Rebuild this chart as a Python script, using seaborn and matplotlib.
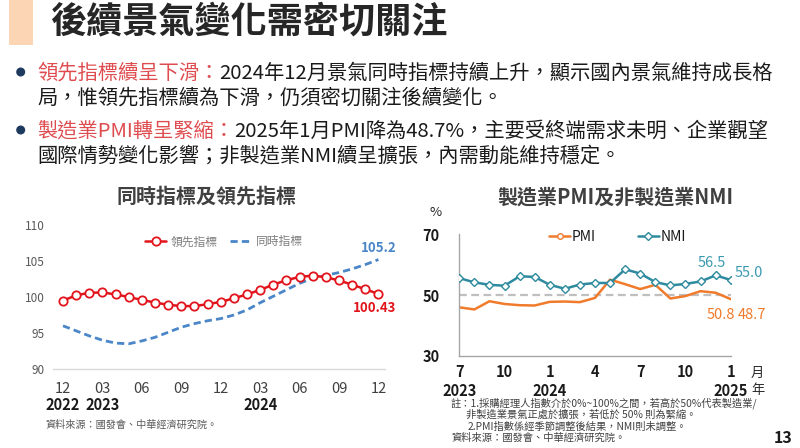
import matplotlib
matplotlib.use("Agg")
import matplotlib.pyplot as plt
from matplotlib.lines import Line2D
from matplotlib.patches import Rectangle, Ellipse
import seaborn as sns
import pandas as pd
import numpy as np

# ---------------- data ----------------
left_months = ["12", "01", "02", "03", "04", "05", "06", "07", "08", "09", "10", "11",
               "12", "01", "02", "03", "04", "05", "06", "07", "08", "09", "10", "11", "12"]
leading = [99.50, 100.23, 100.59, 100.63, 100.36, 100.00, 99.59, 99.23, 98.92, 98.74,
           98.74, 99.00, 99.32, 99.82, 100.36, 100.99, 101.71, 102.34, 102.79, 102.97,
           102.75, 102.30, 101.71, 101.08, 100.43]
coincident = [96.0, 95.3, 94.6, 94.0, 93.6, 93.5, 93.9, 94.4, 95.1, 95.8, 96.3, 96.7,
              97.0, 97.5, 98.2, 99.2, 100.1, 101.0, 101.9, 102.6, 103.0, 103.4, 103.9,
              104.5, 105.2]
left_tick_labels = ["12", "03", "06", "09", "12", "03", "06", "09", "12"]
left_years = [(0, "2022"), (3, "2023"), (15, "2024")]

right_months = ["7", "8", "9", "10", "11", "12", "1", "2", "3", "4", "5", "6",
                "7", "8", "9", "10", "11", "12", "1"]
pmi = [46.0, 45.3, 48.0, 47.1, 46.7, 46.6, 47.8, 47.9, 47.7, 49.1, 55.1, 53.6,
       52.0, 53.4, 48.9, 49.7, 51.3, 50.8, 48.7]
nmi = [55.6, 54.2, 53.4, 53.1, 56.2, 56.0, 53.4, 52.1, 53.5, 54.0, 54.0, 58.5,
       57.1, 54.3, 53.2, 53.7, 54.5, 56.5, 55.0]
right_tick_labels = ["7", "10", "1", "4", "7", "10", "1"]
right_years = [(0, "2023"), (6, "2024"), (18, "2025")]

# ---------------- style ----------------
sns.set_style("white")
plt.rcParams['font.family'] = ['Noto Sans CJK TC', 'DejaVu Sans']
plt.rcParams['axes.unicode_minus'] = False

W, H = 800, 448
fig = plt.figure(figsize=(8, 4.48), dpi=100)
fig.patch.set_facecolor("white")


def fx(px):
    return px / W


def fy(py):
    return 1 - py / H


def ftext(px, py, s, **kw):
    return fig.text(fx(px), fy(py), s, **kw)


# ---------------- slide header ----------------
fig.add_artist(Rectangle((fx(9), fy(45)), fx(33) - fx(9), 45 / H,
                         transform=fig.transFigure, color="#FCD5B5", lw=0))
ftext(50, 22, "後續景氣變化需密切關注", fontsize=26, fontweight="bold",
      color="#262626", ha="left", va="center")

RED_TXT = "#DF4C4F"
BODY = "#1A1A1A"
FS = 14.6
BASE = 7  # baseline offset below visual line centre (px)
bullets = [
    (72, "領先指標續呈下滑：", "2024年12月景氣同時指標持續上升，顯示國內景氣維持成長格"),
    (130, "製造業PMI轉呈緊縮：", "2025年1月PMI降為48.7%，主要受終端需求未明、企業觀望"),
]
second_lines = [
    (97, "局，惟領先指標續為下滑，仍須密切關注後續變化。"),
    (155, "國際情勢變化影響；非製造業NMI續呈擴張，內需動能維持穩定。"),
]
red_texts = []
for py, red, rest in bullets:
    fig.add_artist(Ellipse((fx(20.7), fy(py)), 9 / W, 9 / H,
                           transform=fig.transFigure, color="#1F3A5F", lw=0))
    t = ftext(37, py + BASE, red, fontsize=FS, color=RED_TXT, ha="left", va="baseline")
    red_texts.append((t, py, rest))
for py, s in second_lines:
    ftext(37, py + BASE, s, fontsize=FS, color=BODY, ha="left", va="baseline")

# ---------------- left chart ----------------
axL = fig.add_axes([fx(53), fy(369), (385 - 53) / W, (369 - 225) / H])
dfL = pd.DataFrame({"idx": np.arange(len(leading)), "leading": leading,
                    "coincident": coincident})
RED = "#E2141C"
BLUE = "#4A86C8"
sns.lineplot(data=dfL, x="idx", y="coincident", ax=axL, color=BLUE, lw=2.0,
             linestyle=(0, (2.6, 1.5)), zorder=2)
sns.lineplot(data=dfL, x="idx", y="leading", ax=axL, color=RED, lw=1.8,
             marker="o", markersize=6, markerfacecolor="white",
             markeredgecolor=RED, markeredgewidth=1.3, zorder=3)
axL.set_xlim(-0.76, 24.5)
axL.set_ylim(90, 110)
axL.set_yticks([90, 95, 100, 105, 110])
axL.set_xticks(range(0, 25, 3))
axL.set_xticklabels(left_tick_labels)
axL.set_xlabel("")
axL.set_ylabel("")
for s in ["top", "right", "left"]:
    axL.spines[s].set_visible(False)
axL.spines["bottom"].set_color("#D9D9D9")
axL.spines["bottom"].set_linewidth(1.0)
axL.tick_params(axis="y", length=0, pad=6, labelsize=8.5, labelcolor="#595959")
axL.tick_params(axis="x", length=0, pad=9, labelsize=10.5, labelcolor="#404040")
for i, y in left_years:
    axL.text(i, -0.25, y, transform=axL.get_xaxis_transform(), ha="center",
             va="center", fontsize=10.5, fontweight="bold", color="#1A1A1A")
axL.annotate("105.2", xy=(24, coincident[-1]), xytext=(0.5, 12),
             textcoords="offset pixels", ha="center", va="center",
             fontsize=9.5, fontweight="bold", color=BLUE)
axL.annotate("100.43", xy=(24, leading[-1]), xytext=(-3.5, -14),
             textcoords="offset pixels", ha="center", va="center",
             fontsize=9.5, fontweight="bold", color=RED)
hL = [Line2D([], [], color=RED, lw=1.8, marker="o", markersize=6,
             markerfacecolor="white", markeredgecolor=RED, markeredgewidth=1.3),
      Line2D([], [], color=BLUE, lw=2.0, linestyle=(0, (2.6, 1.5)))]
axL.legend(hL, ["領先指標", "同時指標"], loc="center", bbox_to_anchor=(0.515, 0.882),
           ncol=2, frameon=False, fontsize=8.5, handlelength=1.8,
           handletextpad=0.4, columnspacing=1.0, labelcolor="#7F7F7F")
ftext(207, 196, "同時指標及領先指標", fontsize=14.4, fontweight="bold",
      color="#404040", ha="center", va="center")
ftext(46, 425, "資料來源：國發會、中華經濟研究院。", fontsize=7.3,
      color="#595959", ha="left", va="center")

# ---------------- right chart ----------------
axR = fig.add_axes([fx(459.3), fy(356), (730.7 - 459.3) / W, (356 - 234.3) / H])
dfR = pd.DataFrame({"idx": np.arange(len(pmi)), "PMI": pmi, "NMI": nmi})
ORANGE = "#F07B2C"
TEAL = "#2E8A9E"
axR.axhline(50, color="#BFBFBF", lw=1.6, linestyle=(0, (3.5, 2)), zorder=1)
sns.lineplot(data=dfR, x="idx", y="PMI", ax=axR, color=ORANGE, lw=1.8, zorder=2)
sns.lineplot(data=dfR, x="idx", y="NMI", ax=axR, color=TEAL, lw=1.8,
             marker="D", markersize=3.6, markerfacecolor="white",
             markeredgecolor=TEAL, markeredgewidth=1.0, zorder=3)
axR.set_xlim(0, 18)
axR.set_ylim(30, 70)
axR.set_yticks([30, 50, 70])
axR.set_xticks(range(0, 19, 3))
axR.set_xticklabels(right_tick_labels)
axR.set_xlabel("")
axR.set_ylabel("")
for s in ["top", "right"]:
    axR.spines[s].set_visible(False)
for s in ["left", "bottom"]:
    axR.spines[s].set_color("#A6A6A6")
    axR.spines[s].set_linewidth(1.0)
axR.tick_params(axis="x", direction="in", length=4.5, width=0.8, color="#A6A6A6",
                pad=5.5, labelsize=10.5, labelcolor="#1A1A1A")
axR.tick_params(axis="y", direction="out", length=3, width=0.8, color="#A6A6A6",
                pad=11, labelsize=10.5, labelcolor="#1A1A1A")
for lab in axR.get_xticklabels() + axR.get_yticklabels():
    lab.set_fontweight("bold")
for i, y in right_years:
    axR.text(i, -0.285, y, transform=axR.get_xaxis_transform(), ha="center",
             va="center", fontsize=10.5, fontweight="bold", color="#1A1A1A")
axR.text(19.75, -0.14, "月", transform=axR.get_xaxis_transform(), ha="center",
         va="center", fontsize=9.5, color="#262626")
axR.text(19.8, -0.285, "年", transform=axR.get_xaxis_transform(), ha="center",
         va="center", fontsize=9.5, color="#262626")
TEAL_TXT = "#3B9AB0"
axR.annotate("56.5", xy=(17, nmi[17]), xytext=(-3.5, 12.5), textcoords="offset pixels",
             ha="center", va="center", fontsize=10.5, color=TEAL_TXT)
axR.annotate("55.0", xy=(18, nmi[18]), xytext=(18, 6.5), textcoords="offset pixels",
             ha="center", va="center", fontsize=10.5, color=TEAL_TXT)
axR.annotate("50.8", xy=(17, pmi[17]), xytext=(5, -22), textcoords="offset pixels",
             ha="center", va="center", fontsize=10.5, color=ORANGE)
axR.annotate("48.7", xy=(18, pmi[18]), xytext=(21, -15.5), textcoords="offset pixels",
             ha="center", va="center", fontsize=10.5, color=ORANGE)
hR = [Line2D([], [], color=ORANGE, lw=1.8, marker="o", markersize=4,
             markerfacecolor="white", markeredgecolor=ORANGE, markeredgewidth=1.0),
      Line2D([], [], color=TEAL, lw=1.8, marker="D", markersize=3.6,
             markerfacecolor="white", markeredgecolor=TEAL, markeredgewidth=1.0)]
axR.legend(hR, ["PMI", "NMI"], loc="center", bbox_to_anchor=(0.583, 0.978),
           ncol=2, frameon=False, fontsize=10, handlelength=1.5,
           handletextpad=0.15, columnspacing=3.0, labelcolor="#1A1A1A")
ftext(436, 212, "%", fontsize=9.5, color="#262626", ha="center", va="center")
ftext(615, 197, "製造業PMI及非製造業NMI", fontsize=14.4, fontweight="bold",
      color="#404040", ha="center", va="center")

notes = [
    (451, 403, "註：1.採購經理人指數介於0%~100%之間，若高於50%代表製造業/"),
    (466, 415, "非製造業景氣正處於擴張，若低於 50% 則為緊縮。"),
    (468, 427, "2.PMI指數係經季節調整後結果，NMI則未調整。"),
    (451, 438, "資料來源：國發會、中華經濟研究院。"),
]
for px, py, s in notes:
    ftext(px, py, s, fontsize=7.4, color="#404040", ha="left", va="center")
ftext(783, 438, "13", fontsize=11.5, fontweight="bold", color="#1A1A1A",
      ha="center", va="center")

# place the black continuation right after the red lead-in on the same baseline
fig.canvas.draw()
renderer = fig.canvas.get_renderer()
for t, py, rest in red_texts:
    bb = t.get_window_extent(renderer=renderer)
    fig.text(bb.x1 / W, fy(py + BASE), rest, fontsize=FS, color=BODY, ha="left",
             va="baseline")

fig.savefig("out.png", dpi=100, facecolor="white")
